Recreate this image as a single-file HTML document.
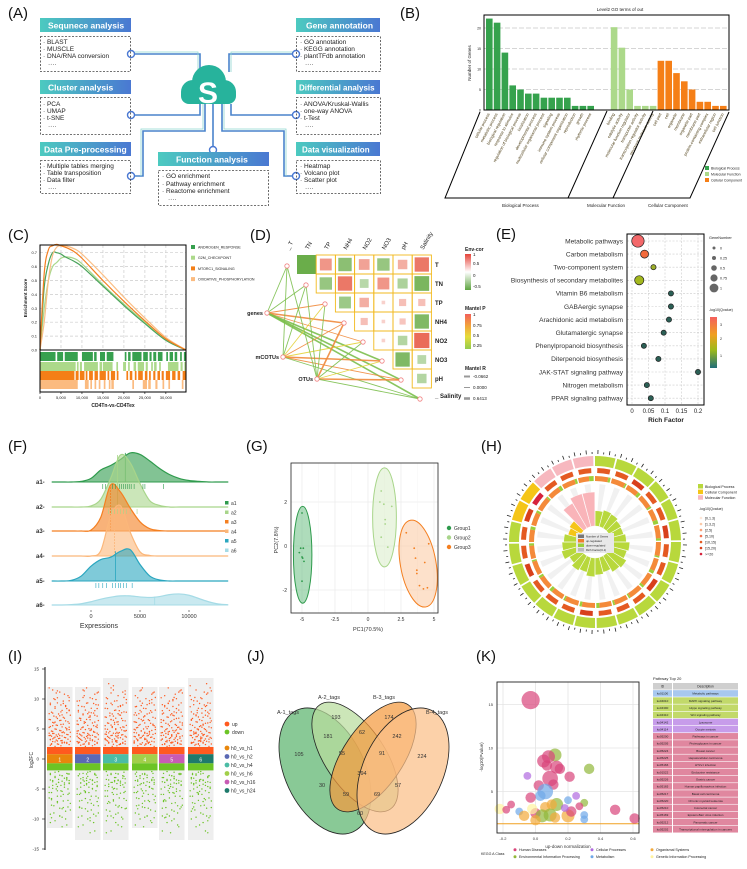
<!DOCTYPE html>
<html><head><meta charset="utf-8"><title>Multi-panel analysis figure</title>
<style>
html,body{margin:0;padding:0;background:#fff;}
svg{display:block;font-family:"Liberation Sans",Arial,sans-serif;}
</style></head>
<body>
<svg id="fig" width="747" height="869" viewBox="0 0 747 869" xmlns="http://www.w3.org/2000/svg">
<defs>
<linearGradient id="hdr" x1="0" x2="1" y1="0" y2="0"><stop offset="0" stop-color="#4ccac0"/><stop offset="1" stop-color="#4a78d2"/></linearGradient>
<linearGradient id="envcor" x1="0" x2="0" y1="0" y2="1"><stop offset="0" stop-color="#e5443a"/><stop offset="0.5" stop-color="#ffffff"/><stop offset="1" stop-color="#5ea440"/></linearGradient>
<linearGradient id="mantelp" x1="0" x2="0" y1="0" y2="1"><stop offset="0" stop-color="#f2605a"/><stop offset="0.35" stop-color="#f2a73a"/><stop offset="0.65" stop-color="#e6dc3a"/><stop offset="1" stop-color="#93cc4e"/></linearGradient>
<linearGradient id="qval" x1="0" x2="0" y1="0" y2="1"><stop offset="0" stop-color="#f4605e"/><stop offset="0.35" stop-color="#f0a020"/><stop offset="0.65" stop-color="#9cba1c"/><stop offset="1" stop-color="#1f6e78"/></linearGradient>
</defs>

<g id="panelA">
<text x="8" y="18" font-size="15" fill="#111">(A)</text>
<g fill="none" stroke="#4a84cc" stroke-width="1.6">
<polyline points="131,54 200,54 200,72"/>
<polyline points="131,115 200,115 200,104"/>
<polyline points="131,176 143,176 143,131 205,131 205,104"/>
<polyline points="296,54 229,54 229,72"/>
<polyline points="296,115 231,115 231,104"/>
<polyline points="296,176 284,176 284,131 222,131 222,104"/>
<polyline points="213,150 213,104"/>
</g>
<g fill="none" stroke="#8fd6d0" stroke-width="0.8">
<polyline points="131,52 198,52 198,72"/><polyline points="298,52 231,52 231,72"/>
<polyline points="141,176 141,129 203,129 203,104"/><polyline points="286,176 286,129 224,129 224,104"/>
</g>
<g fill="#fff" stroke="#4a78d2" stroke-width="1.4">
<circle cx="131" cy="54" r="3.5"/><circle cx="131" cy="115" r="3.5"/><circle cx="131" cy="176" r="3.5"/>
<circle cx="296" cy="54" r="3.5"/><circle cx="296" cy="115" r="3.5"/><circle cx="296" cy="176" r="3.5"/>
<circle cx="213" cy="150" r="3.5"/>
</g>
<g fill="#27b39c">
<circle cx="193" cy="92" r="12"/><circle cx="209" cy="82" r="17"/><circle cx="224" cy="92" r="12"/>
<rect x="181" y="86" width="55" height="18" rx="8"/>
</g>
<text x="208" y="103" font-size="30" font-weight="bold" fill="#fff" text-anchor="middle">S</text>

<g>
<rect x="40" y="18" width="91" height="14" fill="url(#hdr)"/>
<text x="48" y="28.5" font-size="8.5" font-weight="bold" fill="#fff">Sequnece analysis</text>
<rect x="40.5" y="36.5" width="90" height="35" fill="none" stroke="#444" stroke-dasharray="2,1.5" stroke-width="0.8"/>
<g font-size="6.5" fill="#222"><text x="43" y="44">· BLAST</text><text x="43" y="51">· MUSCLE</text><text x="43" y="58">· DNA/RNA conversion</text><text x="48" y="66">····</text></g>
</g>
<g>
<rect x="40" y="80" width="91" height="14" fill="url(#hdr)"/>
<text x="48" y="90.5" font-size="8.5" font-weight="bold" fill="#fff">Cluster analysis</text>
<rect x="40.5" y="97.5" width="90" height="37" fill="none" stroke="#444" stroke-dasharray="2,1.5" stroke-width="0.8"/>
<g font-size="6.5" fill="#222"><text x="43" y="106">· PCA</text><text x="43" y="113">· UMAP</text><text x="43" y="120">· t-SNE</text><text x="48" y="128">····</text></g>
</g>
<g>
<rect x="40" y="142" width="91" height="14" fill="url(#hdr)"/>
<text x="44" y="152.5" font-size="8.5" font-weight="bold" fill="#fff">Data Pre-processing</text>
<rect x="40.5" y="160.5" width="90" height="33" fill="none" stroke="#444" stroke-dasharray="2,1.5" stroke-width="0.8"/>
<g font-size="6.5" fill="#222"><text x="43" y="168">· Multiple tables merging</text><text x="43" y="175">· Table transposition</text><text x="43" y="182">· Data filter</text><text x="48" y="190">····</text></g>
</g>
<g>
<rect x="296" y="18" width="84" height="14" fill="url(#hdr)"/>
<text x="306" y="28.5" font-size="8.5" font-weight="bold" fill="#fff">Gene annotation</text>
<rect x="296.5" y="36.5" width="84" height="35" fill="none" stroke="#444" stroke-dasharray="2,1.5" stroke-width="0.8"/>
<g font-size="6.5" fill="#222"><text x="300" y="44">· GO annotation</text><text x="300" y="51">· KEGG annotation</text><text x="300" y="58">· plantTFdb annotation</text><text x="305" y="66">····</text></g>
</g>
<g>
<rect x="296" y="80" width="84" height="14" fill="url(#hdr)"/>
<text x="299" y="90.5" font-size="8" font-weight="bold" fill="#fff">Differential analysis</text>
<rect x="296.5" y="97.5" width="84" height="37" fill="none" stroke="#444" stroke-dasharray="2,1.5" stroke-width="0.8"/>
<g font-size="6.5" fill="#222"><text x="300" y="106">· ANOVA/Kruskal-Wallis</text><text x="300" y="113">· one-way ANOVA</text><text x="300" y="120">· t-Test</text><text x="305" y="128">····</text></g>
</g>
<g>
<rect x="296" y="142" width="84" height="14" fill="url(#hdr)"/>
<text x="302" y="152.5" font-size="8" font-weight="bold" fill="#fff">Data visualization</text>
<rect x="296.5" y="160.5" width="84" height="33" fill="none" stroke="#444" stroke-dasharray="2,1.5" stroke-width="0.8"/>
<g font-size="6.5" fill="#222"><text x="300" y="168">· Heatmap</text><text x="300" y="175">· Volcano plot</text><text x="300" y="182">· Scatter plot</text><text x="305" y="190">····</text></g>
</g>
<g>
<rect x="158" y="152" width="111" height="14" fill="url(#hdr)"/>
<text x="176" y="162.5" font-size="8.5" font-weight="bold" fill="#fff">Function analysis</text>
<rect x="158.5" y="170.5" width="110" height="35" fill="none" stroke="#444" stroke-dasharray="2,1.5" stroke-width="0.8"/>
<g font-size="6.5" fill="#222"><text x="162" y="178">· GO enrichment</text><text x="162" y="186">· Pathway enrichment</text><text x="162" y="193">· Reactome enrichment</text><text x="168" y="201">····</text></g>
</g>
</g>
</svg>

<script>
const NS='http://www.w3.org/2000/svg';
const svg=document.getElementById('fig');
function mk(tag,a,p){const e=document.createElementNS(NS,tag);for(const k in a)e.setAttribute(k,a[k]);(p||svg).appendChild(e);return e;}
function tx(x,y,s,a,p){const e=mk('text',Object.assign({x:x,y:y},a||{}),p);e.textContent=s;return e;}
function smooth(pts){let d='M'+pts[0][0]+','+pts[0][1];for(let i=0;i<pts.length-1;i++){const p0=pts[Math.max(0,i-1)],p1=pts[i],p2=pts[i+1],p3=pts[Math.min(pts.length-1,i+2)];const c1=[p1[0]+(p2[0]-p0[0])/6,p1[1]+(p2[1]-p0[1])/6],c2=[p2[0]-(p3[0]-p1[0])/6,p2[1]-(p3[1]-p1[1])/6];d+=' C'+c1[0]+','+c1[1]+' '+c2[0]+','+c2[1]+' '+p2[0]+','+p2[1];}return d;}

/* PANEL B data */
const goCategories=["cellular process","metabolic process","biological regulation","response to stimulus","regulation of biological process","localization","developmental process","multicellular organismal process","signaling","immune system process","cellular component organization","reproduction","growth","rhythmic process","","","binding","catalytic activity","molecular function regulator","transporter activity","transcription regulator activity","structural molecule activity","cell part","cell","organelle","membrane","organelle part","membrane part","protein-containing complex","extracellular region","cell junction"];
const goCounts=[22.3,21.3,14,6,5,4,4,3,3,3,3,1,1,1,0,0,20.2,15.2,5,1,1,1,12,12,9,7,5,2,2,1,1];
const goClass=["BP","BP","BP","BP","BP","BP","BP","BP","BP","BP","BP","BP","BP","BP","","","MF","MF","MF","MF","MF","MF","CC","CC","CC","CC","CC","CC","CC","CC","CC"];
const goTicks=[0,5,10,15,20];

/* PANEL C data */
const gseaRanks=[0,1000,2000,3000,4000,5000,6000,8000,10000,15000,20000,25000,30000,34800];
const esAndrogen=[0,0.45,0.62,0.7,0.7,0.69,0.67,0.64,0.6,0.46,0.32,0.19,0.07,0];
const esG2M=[0,0.3,0.5,0.6,0.63,0.66,0.67,0.66,0.62,0.47,0.33,0.2,0.07,0];
const esMtorc1=[0,0.55,0.72,0.75,0.76,0.75,0.74,0.71,0.66,0.5,0.35,0.21,0.08,0];
const esOxphos=[0,0.2,0.5,0.68,0.74,0.75,0.75,0.73,0.69,0.54,0.38,0.23,0.09,0];
const hitsAndrogen=[[0,3.7],[4.1,5.5],[5.9,9],[10,12.6],[12.9,13.5],[14.3,15.5],[15.9,17.5],[20.2,20.6],[21,21.6],[22,24.2],[24.6,25.7],[26.1,26.6],[27,27.7],[28.1,29.2],[30.1,30.5],[30.9,31.7],[32.1,32.7],[33.4,33.8],[34.3,34.8]];
const hitsG2M=[[0,8.5],[8.8,9.2],[9.5,10],[10.5,13.8],[14.2,14.8],[15,17.3],[18.2,18.6],[19.8,20.5],[21,21.4],[22.3,22.9],[23.3,24.8],[25.2,25.7],[26.5,26.9],[27.2,27.8],[28.4,28.8],[30.5,33],[33.5,34],[34.4,34.8]];
const hitsMtorc1=[[0,8.2],[8.5,9.2],[9.5,10.6],[10.9,11.3],[11.7,12.6],[13,13.8],[14.2,15.7],[16.1,16.5],[16.9,17.9],[18.3,18.7],[20.6,21],[21.4,22],[22.6,23],[23.4,24.5],[25,25.6],[26,26.4],[27,27.5],[28,28.6],[29,29.5],[30,31],[31.5,32.3],[32.8,33.4],[34,34.8]];
const hitsOxphos=[[0,9],[10.7,11.6],[12,12.4],[13,13.4],[14,14.4],[15.2,15.6],[16.4,16.8],[17,17.6],[22,22.4],[24.5,25.5],[25.8,26.4],[27.5,28],[29.2,29.6],[30.6,31],[33.8,34.2]];
const gseaNames=["ANDROGEN_RESPONSE","G2M_CHECKPOINT","MTORC1_SIGNALING","OXIDATIVE_PHOSPHORYLATION"];

/* PANEL D data */
const envVars=["T","TN","TP","NH4","NO2","NO3","pH","Salinity"];
const envCorRows=[[-1.0,0.55,-0.7,0.45,-0.6,0.35,0.8],[-0.6,0.8,-0.3,0.55,-0.4,-0.85],[-0.55,0.35,0.05,0.2,0.2],[0.2,0.05,0.15,-0.8],[0.05,-0.35,0.9],[-0.8,-0.3],[-0.35]];
const mantelSources=["genes","mCOTUs","OTUs"];
const mantelPClass=[["g","g","o","o","o","g","g","g"],["g","g","y","o","y","o","o","g"],["g","g","g","o","g","y","o","g"]];
const mantelRClass=[[1,1,1,2,1,2,2,2],[1,1,1,1,1,2,1,1],[1,1,1,2,1,1,2,1]];

/* PANEL E data */
const keggPathways=["Metabolic pathways","Carbon metabolism","Two-component system","Biosynthesis of secondary metabolites","Vitamin B6 metabolism","GABAergic synapse","Arachidonic acid metabolism","Glutamatergic synapse","Phenylpropanoid biosynthesis","Diterpenoid biosynthesis","JAK-STAT signaling pathway","Nitrogen metabolism","PPAR signaling pathway"];
const richFactor=[0.018,0.038,0.065,0.022,0.118,0.118,0.112,0.096,0.036,0.08,0.2,0.045,0.057];
const geneNumber=[1,0.45,0.1,0.6,0.1,0.1,0.1,0.1,0.1,0.1,0.1,0.1,0.1];
const negLogQ=[3.4,3.0,1.3,1.5,0.4,0.4,0.4,0.4,0.4,0.4,0.4,0.4,0.4];
const richTicks=[0,0.05,0.1,0.15,0.2];

/* PANEL F data */
const ridgeGrid=[-4000,-3000,-2000,-1000,0,1000,2000,3000,4000,5000,6000,7000,8000,9000,10000,11000,12000,13000,14000];
const ridgeNames=["a1","a2","a3","a4","a5","a6"];
const densA1=[0,0,0,0.02,0.12,0.4,0.55,0.75,0.97,0.92,0.7,0.45,0.25,0.12,0.05,0.02,0,0,0];
const densA2=[0,0,0,0,0.02,0.15,0.55,1.0,0.85,0.45,0.12,0.03,0,0,0,0,0,0,0];
const densA3=[0,0,0,0,0.02,0.3,1.0,0.85,0.5,0.2,0.05,0.01,0,0,0,0,0,0,0];
const densA4=[0,0,0,0,0,0.1,0.75,0.95,0.45,0.08,0.01,0,0,0,0,0,0,0,0];
const densA5=[0,0,0.02,0.15,0.45,0.65,0.72,0.9,0.95,0.5,0.15,0.03,0,0,0,0,0,0,0];
const densA6=[0,0,0.03,0.1,0.25,0.45,0.6,0.7,0.7,0.62,0.58,0.65,0.8,0.85,0.75,0.5,0.25,0.08,0.02];
const ridgeMedians=[3500,2700,2000,2400,2500,6500];
const ridgeRanges=[[-4000,14000],[-4000,13000],[-3000,9500],[-3000,9000],[-4000,13000],[-4000,14000]];
const rugA1=[1200,1500,2200,2500,2900,3100,3300,3500,3700,3900,4100,4400,5300,5500,7400];
const rugA2=[1800,2100,2400,2700,3000,3300,3600,4000,4700];
const rugA5=[500,800,1200,1600,2200,2500,2800,3000,3300,3600,4200];

/* PANEL G data */
const pcaGroups=["Group1","Group2","Group3"];
const pc1G1=[-5.0,-5.1,-5.2,-4.9,-5.0,-4.85,-5.0,-4.95];
const pc2G1=[1.5,-0.1,-0.3,-0.1,-0.5,-0.7,-1.6,-0.55];
const pc1G2=[1.0,0.9,1.2,1.8,1.3,1.3,1.0,1.5];
const pc2G2=[2.5,2.0,1.9,1.8,1.2,1.0,0.4,-0.05];
const pc1G3=[2.9,3.5,4.6,3.6,4.3,3.7,3.7,4.5,3.9,4.2];
const pc2G3=[0.6,-0.1,0.1,-0.55,-0.75,-1.1,-1.25,-1.9,-1.8,-1.95];
const ellipseCx=[-4.95,1.25,3.8];
const ellipseCy=[-0.4,1.3,-0.8];
const ellipseRx=[0.7,0.9,1.35];
const ellipseRy=[2.2,2.25,2.0];
const pc1Ticks=[-5,-2.5,0,2.5,5];
const pc2Ticks=[-2,0,2];

/* PANEL H data */
const circClass=["BP","BP","BP","BP","BP","BP","BP","BP","BP","BP","BP","BP","BP","BP","BP","BP","BP","BP","BP","CC","CC","MF","MF","MF"];
const circInner=[0.45,0.5,0.48,0.42,0.4,0.45,0.55,0.5,0.6,0.55,0.45,0.5,0.55,0.45,0.5,0.4,0.55,0.5,0.45,0.35,0.4,0.85,1.0,1.0];
const circUpFrac=[0.85,0.9,0.8,0.88,0.75,0.85,0.9,0.8,0.85,0.9,0.88,0.8,0.85,0.9,0.8,0.85,0.9,0.85,0.8,0.85,0.9,0.8,0.85,0.7];
const circQ=[4,4,5,4,4,5,4,4,5,4,4,4,5,4,4,4,5,4,4,5,6,4,4,4];
const qColors=["#fde7d8","#fbc9a8","#f8a27a","#f3704e","#e45a22","#d8401c","#d6233c"];
const qLabels=["[0,1.3)","[1.3,2)","[2,5)","[5,10)","[10,15)","[15,20)",">=20"];

/* PANEL I data */
const maGroups=["h0_vs_h1","h0_vs_h2","h0_vs_h4","h0_vs_h6","h0_vs_h16","h0_vs_h24"];
const maColors=["#e8870c","#5b69b4","#4bbca5","#a2cf4a","#c85bb4","#1e7a6b"];
const maUpMax=[12,12,13.5,12,12,13.5];
const maDownMin=[-11.5,-13.5,-13.5,-11.5,-13.5,-13.5];
const upVals=[11.5,10.8,10.2,9.7,9.3,9.0,8.7,8.4,8.1,7.8,7.5,7.3,7.0,6.8,6.6,6.4,6.2,6.0,5.8,5.6,5.4,5.2,5.0,4.9,4.7,4.6,4.4,4.3,4.1,4.0,3.9,3.8,3.7,3.6,3.5,3.4,3.3,3.2,3.1,3.0,9.9,8.9,7.2,6.1,5.3,4.5,3.9,12.2,11.0,7.7,2.9,2.7,2.5,2.4,2.3,2.2,2.1,2.6,2.8,2.45];
const upJit=[0.2,0.7,0.4,0.9,0.1,0.55,0.3,0.8,0.6,0.15,0.45,0.95,0.35,0.7,0.05,0.5,0.85,0.25,0.65,0.4,0.1,0.75,0.3,0.9,0.55,0.2,0.6,0.05,0.8,0.35,0.5,0.15,0.95,0.7,0.25,0.45,0.85,0.1,0.6,0.4,0.3,0.75,0.5,0.2,0.9,0.65,0.05,0.55,0.35,0.8];
const downVals=[-3.1,-3.3,-3.5,-3.7,-3.9,-4.1,-4.4,-4.7,-5.0,-5.3,-5.6,-5.9,-6.2,-6.6,-7.0,-7.4,-7.8,-8.2,-8.7,-9.2,-9.7,-10.3,-11.0,-12.0,-3.2,-3.6,-4.0,-4.6,-5.4,-6.8,-8.0,-9.5,-2.2,-2.4,-2.6,-2.8,-2.1,-2.5];
const downJit=[0.3,0.8,0.1,0.6,0.45,0.9,0.2,0.7,0.35,0.55,0.05,0.85,0.4,0.15,0.65,0.95,0.25,0.5,0.75,0.1,0.6,0.3,0.8,0.45,0.7,0.2,0.9,0.4,0.6,0.15,0.85,0.5];
const maTicks=[-15,-10,-5,0,5,10,15];

/* PANEL J data */
const vennSets=["A-1_tags","A-2_tags","B-3_tags","B-4_tags"];
const vennCounts=[105,193,174,224,181,62,242,55,91,394,30,57,59,69,60];

/* PANEL K data */
const bubX=[-0.03,0.12,0.08,0.05,0.07,0.13,0.15,0.33,0.09,0.21,-0.05,0.02,0.11,0.06,0.03,-0.03,0.2,0.25,0.3,0.13,0.1,0.06,-0.15,-0.22,-0.18,-0.1,-0.07,0.0,0.04,0.09,0.12,0.2,0.22,0.27,0.3,0.3,0.49,0.61,0.18,-0.02,0.0];
const bubY=[15.5,9.2,9.0,8.5,8.0,7.8,7.6,7.6,6.5,6.7,6.8,5.7,5.8,5.0,4.5,4.3,4.0,4.5,3.7,3.5,3.5,3.2,3.5,3.0,2.9,2.7,2.2,2.5,2.2,2.3,2.0,2.2,2.7,3.3,2.3,1.8,2.9,1.9,3.1,3.0,1.7];
const bubR=[7,5,5,5,4,5,4,4,6,4,3,4,4,6,4,4,3,3,3,5,4,4,3,4,3,3,4,4,5,5,4,5,4,3,3,3,4,4,3,4,4];
const bubClass=["H","E","H","H","H","H","H","E","H","H","C","H","H","M","M","H","M","C","E","E","O","O","H","G","H","M","O","H","E","E","O","O","H","H","M","M","H","H","C","G","O"];
const keggClassNames={H:"Human Diseases",E:"Environmental Information Processing",C:"Cellular Processes",M:"Metabolism",O:"Organismal Systems",G:"Genetic Information Processing"};
const keggClassColors={H:"#d9457a",E:"#92b83a",C:"#b06ae0",M:"#6fa8e8",O:"#f2a93b",G:"#fff3a0"};
const topIds=["ko01100","ko04010","ko04390","ko04310","ko04142","ko04114","ko05200","ko05205","ko05224","ko05225","ko05166","ko01522","ko05226","ko05165","ko05217","ko05220","ko05210","ko05169","ko05212","ko05202"];
const topDesc=["Metabolic pathways","MAPK signaling pathway","Hippo signaling pathway","Wnt signaling pathway","Lysosome","Oocyte meiosis","Pathways in cancer","Proteoglycans in cancer","Breast cancer","Hepatocellular carcinoma","HTLV-I infection","Endocrine resistance","Gastric cancer","Human papillomavirus infection","Basal cell carcinoma","Chronic myeloid leukemia","Colorectal cancer","Epstein-Barr virus infection","Pancreatic cancer","Transcriptional misregulation in cancers"];
const topClass=["M","E","E","E","C","C","H","H","H","H","H","H","H","H","H","H","H","H","H","H"];
const kxTicks=[-0.2,0,0.2,0.4,0.6];
const kyTicks=[5,10,15];

/* PANEL B */
(function(){
const g=mk('g',{});


const lbl=tx(400,18,'(B)',{'font-size':15,fill:'#111'},g);


const X0=486,STEP=7.8,BW=6.6,YB=110,YS=4.1;
const y=v=>YB-v*YS;
const cols={BP:'#35a24d',MF:'#acd98a',CC:'#f57f17'};
goTicks.forEach(t=>{if(t>0)mk('line',{x1:484,x2:729,y1:y(t),y2:y(t),stroke:'#c8c8c8','stroke-width':0.8,'stroke-dasharray':'5,2'},g);
 tx(481,y(t)+1.5,String(t),{'font-size':3.5,'text-anchor':'end',fill:'#222'},g);});
goCounts.forEach((v,i)=>{if(!goClass[i])return;
 const r=mk('rect',{x:X0+i*STEP,y:y(v),width:BW,height:v*YS,fill:cols[goClass[i]]},g);
 
 
 const t=tx(X0+i*STEP+4,114,goCategories[i],{'font-size':4,'text-anchor':'end',fill:'#4a3a10',transform:'rotate(-62 '+(X0+i*STEP+4)+' 114)'},g);
 
 
});
const box=mk('rect',{x:484,y:15,width:245,height:95,fill:'none',stroke:'#000','stroke-width':1},g);


tx(620,11,'Level2 GO terms of out',{'font-size':4.5,'text-anchor':'middle',fill:'#222'},g);
const yl=tx(471,63,'Number of Genes',{'font-size':4.5,'text-anchor':'middle',fill:'#222',transform:'rotate(-90 471 63)'},g);


mk('polyline',{points:'480,112 445,198 690,198 729,112',fill:'none',stroke:'#000','stroke-width':1},g);
mk('line',{x1:607,y1:111,x2:568,y2:198,stroke:'#000','stroke-width':1},g);
mk('line',{x1:653,y1:111,x2:613,y2:198,stroke:'#000','stroke-width':1},g);
[['Biological Process',502],['Molecular Function',587],['Cellular Component',648]].forEach(a=>{const t=tx(a[1],207,a[0],{'font-size':4.5,fill:'#222'},g);});
[['Biological Process','BP'],['Molecular Function','MF'],['Cellular Component','CC']].forEach((a,i)=>{
 const r=mk('rect',{x:705,y:166+i*6,width:4,height:4,fill:cols[a[1]]},g);
 
 
 tx(711,169.5+i*6,a[0],{'font-size':3.5,fill:'#222'},g);});
})();

/* PANEL C */
(function(){
const g=mk('g',{});


const lbl=tx(8,240,'(C)',{'font-size':15,fill:'#111'},g);


const L=40,R=186,T=245,B=350;
const x=k=>L+k/34800*(R-L);
const y=v=>B-v/0.1*13.9;
for(let k=5000;k<=30000;k+=5000)mk('line',{x1:x(k),x2:x(k),y1:T,y2:B,stroke:'#ccc','stroke-width':0.7,'stroke-dasharray':'3,2'},g);
for(let v=0;v<=0.7001;v+=0.1){mk('line',{x1:L,x2:R,y1:y(v),y2:y(v),stroke:'#ccc','stroke-width':0.7,'stroke-dasharray':'3,2'},g);
 tx(L-3,y(v)+1.5,v.toFixed(1),{'font-size':4,'text-anchor':'end',fill:'#222'},g);}
const series=[[esG2M,'#a9d88c'],[esAndrogen,'#4aa35c'],[esOxphos,'#fbbf86'],[esMtorc1,'#f47f20']];
const names=['es-line-g2m-checkpoint','es-line-androgen-response','es-line-oxidative-phosphorylation','es-line-mtorc1-signaling'];
series.forEach((s,i)=>{const pts=gseaRanks.map((r,j)=>[x(r),y(s[0][j])]);
 const p=mk('path',{d:smooth(pts),fill:'none',stroke:s[1],'stroke-width':1.2},g);
 
 });
mk('rect',{x:L,y:T,width:R-L,height:B-T,fill:'none',stroke:'#000','stroke-width':1},g);
const rows=[[hitsAndrogen,'#37a04e',352],[hitsG2M,'#acd98a',362],[hitsMtorc1,'#f47f17',371],[hitsOxphos,'#fbbb80',380]];
rows.forEach((rw,ri)=>{rw[0].forEach(h=>{const r=mk('rect',{x:x(h[0]*1000),y:rw[2],width:Math.max(0.8,x(h[1]*1000)-x(h[0]*1000)),height:9,fill:rw[1]},g);
 
 });});
mk('rect',{x:L,y:350,width:R-L,height:42,fill:'none',stroke:'#000','stroke-width':1},g);
[0,5000,10000,15000,20000,25000,30000].forEach(k=>{mk('line',{x1:x(k),x2:x(k),y1:392,y2:394,stroke:'#000','stroke-width':0.6},g);
 tx(x(k),399,k===0?'0':k.toLocaleString('en-US'),{'font-size':4,'text-anchor':'middle',fill:'#222'},g);});
const xt=tx(113,407,'CD4Tn-vs-CD4Tex',{'font-size':5,'text-anchor':'middle','font-weight':'bold',fill:'#222'},g);


const yt=tx(27,298,'Enrichment Score',{'font-size':4.5,'text-anchor':'middle','font-weight':'bold',fill:'#222',transform:'rotate(-90 27 298)'},g);


const lc=['#37a04e','#acd98a','#f47f17','#fbbb80'];
gseaNames.forEach((n,i)=>{const r=mk('rect',{x:191,y:245+i*10.7,width:4,height:4,fill:lc[i]},g);
 
 
 tx(198,248.5+i*10.7,n,{'font-size':3.6,fill:'#222'},g);});
})();

/* PANEL D */
(function(){
const g=mk('g',{});


const lbl=tx(250,240,'(D)',{'font-size':15,fill:'#111'},g);


const GX=297,GY=255,CW=19.2,CH=19;
const tgt=envVars.map((v,i)=>[287+19*i,266+19*i]);
const src=[[267,313],[283,357],[317,379]];
const pc={g:'#7cbf4e',o:'#f08a3c',y:'#e3d23a'};
mantelSources.forEach((s,si)=>{envVars.forEach((v,ti)=>{
 const l=mk('line',{x1:src[si][0],y1:src[si][1],x2:tgt[ti][0],y2:tgt[ti][1],stroke:pc[mantelPClass[si][ti]],'stroke-width':mantelRClass[si][ti]===2?1.6:0.9,'stroke-opacity':0.9},g);
 
 });});
function col(v){const a=Math.min(1,Math.abs(v));const c=v>0?[232,96,76]:[106,173,74];return 'rgb('+c.map(cc=>Math.round(255-(255-cc)*(0.25+0.75*a))).join(',')+')';}
envCorRows.forEach((row,r)=>{row.forEach((v,k)=>{const c=r+k;const cx=GX+c*CW,cy=GY+r*CH;
 if(!(r===0&&k===0))mk('rect',{x:cx,y:cy,width:CW,height:CH,fill:'none',stroke:'#f2b91d','stroke-width':0.9},g);
 const s=(r===0&&k===0)?CW:16*Math.sqrt(Math.abs(v));
 const q=mk('rect',{x:cx+(CW-s)/2,y:cy+(CH-Math.min(s,CH))/2,width:s,height:Math.min(s,CH),fill:col(v)},g);
 
 });});
envVars.forEach((v,i)=>{
 const rl=tx(435,(i<7?GY+i*CH+12:398),(i===7?'_ ':'')+v,{'font-size':6,fill:'#222','font-weight':'bold'},g);
 
 
 const cxp=289+19.2*i;
 tx(cxp,250,(i===0?'_ ':'')+v,{'font-size':6,fill:'#222',transform:'rotate(-60 '+cxp+' 250)'},g);
});
tgt.forEach(t=>{const c=mk('circle',{cx:t[0],cy:t[1],r:2.2,fill:'#fff',stroke:'#f08080','stroke-width':0.8},g);});
src.forEach((s,i)=>{const c=mk('circle',{cx:s[0],cy:s[1],r:2.2,fill:'#fff',stroke:'#f08080','stroke-width':0.8},g);
 
 
 tx(s[0]-4,s[1]+2,mantelSources[i],{'font-size':5.5,'text-anchor':'end','font-weight':'bold',fill:'#222'},g);});
tx(465,251,'Env-cor',{'font-size':5,'font-weight':'bold',fill:'#222'},g);
const cb=mk('rect',{x:465,y:254,width:6,height:36,fill:'url(#envcor)'},g);


[['1',256],['0.5',265],['0',277],['-0.5',288]].forEach(a=>tx(473,a[1],a[0],{'font-size':4.5,fill:'#222'},g));
tx(465,310,'Mantel P',{'font-size':5,'font-weight':'bold',fill:'#222'},g);
const cb2=mk('rect',{x:465,y:314,width:6,height:35,fill:'url(#mantelp)'},g);


[['1',316],['0.75',327],['0.5',337],['0.25',347]].forEach(a=>tx(473,a[1],a[0],{'font-size':4.5,fill:'#222'},g));
tx(465,370,'Mantel R',{'font-size':5,'font-weight':'bold',fill:'#222'},g);
[['-0.0662',378,2],['0.0000',389,1],['0.6413',400,2.6]].forEach(a=>{mk('line',{x1:464,x2:470,y1:a[1]-1.5,y2:a[1]-1.5,stroke:'#999','stroke-width':a[2]},g);tx(473,a[1],a[0],{'font-size':4.5,fill:'#222'},g);});
})();

/* PANEL E */
(function(){
const g=mk('g',{});


const lbl=tx(496,239,'(E)',{'font-size':15,fill:'#111'},g);


const L=627,R=704,T=234,B=405;
const x=v=>632+v*330;
const y=i=>241+i*13.1;
richTicks.forEach(t=>{mk('line',{x1:x(t),x2:x(t),y1:T,y2:B,stroke:'#ccc','stroke-width':0.6,'stroke-dasharray':'2,1.5'},g);
 tx(x(t),413,String(t),{'font-size':6,'text-anchor':'middle',fill:'#222'},g);});
keggPathways.forEach((p,i)=>{mk('line',{x1:L,x2:R,y1:y(i),y2:y(i),stroke:'#ccc','stroke-width':0.6,'stroke-dasharray':'2,1.5'},g);
 const t=tx(623,y(i)+2.3,p,{'font-size':6.6,'text-anchor':'end',fill:'#333'},g);
 
 });
function qc(q){if(q>3.2)return '#f3686a';if(q>2.7)return '#f26a3c';if(q>1.4)return '#a3b81e';if(q>1.0)return '#9cae2a';return '#2b5f55';}
keggPathways.forEach((p,i)=>{const c=mk('circle',{cx:x(richFactor[i]),cy:y(i),r:2.2+geneNumber[i]*4,fill:qc(negLogQ[i]),stroke:'#222','stroke-width':0.7},g);
 
 });
mk('rect',{x:L,y:T,width:R-L,height:B-T,fill:'none',stroke:'#000','stroke-width':1},g);
const xt=tx(666,422,'Rich Factor',{'font-size':6.5,'font-weight':'bold','text-anchor':'middle',fill:'#222'},g);


tx(709,239,'GeneNumber',{'font-size':3.8,fill:'#222'},g);
[['0',1.5],['0.25',2],['0.5',2.8],['0.75',3.6],['1',4.4]].forEach((a,i)=>{mk('circle',{cx:714,cy:248+i*10,r:a[1],fill:'#666'},g);tx(720,249.5+i*10,a[0],{'font-size':3.6,fill:'#222'},g);});
tx(709,311,'-log10(Qvalue)',{'font-size':3.6,fill:'#222'},g);
const cb=mk('rect',{x:710,y:317,width:7,height:51,fill:'url(#qval)'},g);


[['3',326],['2',340],['1',357]].forEach(a=>tx(720,a[1],a[0],{'font-size':3.6,fill:'#222'},g));
})();

/* PANEL F */
(function(){
const g=mk('g',{});


const lbl=tx(8,451,'(F)',{'font-size':15,fill:'#111'},g);


const x=v=>91+v*0.0098;
const base=[482,507,531,556,581,605];
const hts=[30,52,46,53,33,13];
const dens=[densA1,densA2,densA3,densA4,densA5,densA6];
const fills=['#2f9b4d','#a8d58a','#f47f20','#fbb77a','#2aa6bf','#a5dbe6'];
dens.forEach((d,i)=>{
 const pts=ridgeGrid.map((v,j)=>[x(v),base[i]-d[j]*hts[i]]);
 const path=smooth(pts);
 const area=mk('path',{d:path+' L'+x(14000)+','+base[i]+' L'+x(-4000)+','+base[i]+' Z',fill:fills[i],'fill-opacity':0.6,stroke:'none'},g);
 
 
 mk('path',{d:path,fill:'none',stroke:fills[i],'stroke-width':1.2},g);
 mk('line',{x1:x(ridgeRanges[i][0]),x2:x(ridgeRanges[i][1]),y1:base[i],y2:base[i],stroke:fills[i],'stroke-width':1},g);
 const mi=Math.round((ridgeMedians[i]+4000)/1000);
 mk('line',{x1:x(ridgeMedians[i]),x2:x(ridgeMedians[i]),y1:base[i],y2:base[i]-d[Math.min(18,mi)]*hts[i],stroke:fills[i],'stroke-width':0.8,'stroke-dasharray':i===2||i===3?'2,1':''},g);
 const t=tx(36,base[i]+2,ridgeNames[i]+'-',{'font-size':6,'font-weight':'bold',fill:'#333'},g);
 
 
 const lr=mk('rect',{x:225,y:501+i*9.5,width:3.5,height:3.5,fill:fills[i]},g);
 
 
 tx(231,505+i*9.5,ridgeNames[i],{'font-size':5,fill:'#333'},g);
});
[[rugA1,base[0],'#2f9b4d'],[rugA2,base[1],'#a8d58a'],[rugA5,base[4],'#2aa6bf']].forEach(r=>r[0].forEach(v=>mk('line',{x1:x(v),x2:x(v),y1:r[1]+2,y2:r[1]+7,stroke:r[2],'stroke-width':0.6},g)));
[0,5000,10000].forEach(v=>{mk('line',{x1:x(v),x2:x(v),y1:610,y2:612,stroke:'#333','stroke-width':0.6},g);tx(x(v),618,String(v),{'font-size':5.5,'text-anchor':'middle',fill:'#333'},g);});
const xt=tx(99,628,'Expressions',{'font-size':7,'text-anchor':'middle',fill:'#333'},g);


})();

/* PANEL G */
(function(){
const g=mk('g',{});


const lbl=tx(246,451,'(G)',{'font-size':15,fill:'#111'},g);


const x=v=>368+v*13.2,y=v=>546-v*22;
pc1Ticks.forEach(t=>{mk('line',{x1:x(t),x2:x(t),y1:463,y2:613,stroke:'#ececec','stroke-width':0.8},g);tx(x(t),621,String(t),{'font-size':5,'text-anchor':'middle',fill:'#333'},g);});
pc2Ticks.forEach(t=>{mk('line',{x1:291,x2:438,y1:y(t),y2:y(t),stroke:'#ececec','stroke-width':0.8},g);tx(287,y(t)+2,String(t),{'font-size':5,'text-anchor':'end',fill:'#333'},g);});
[-3.75,-1.25,1.25,3.75].forEach(t=>mk('line',{x1:x(t),x2:x(t),y1:463,y2:613,stroke:'#f4f4f4','stroke-width':0.5},g));
const cols=['#2e9a4c','#a8d58a','#f47f20'];
const fillsE=['#6cbf84','#d8ecc8','#fbc9a0'];
pcaGroups.forEach((n,i)=>{const e=mk('ellipse',{cx:x(ellipseCx[i]),cy:y(ellipseCy[i]),rx:ellipseRx[i]*13.2,ry:ellipseRy[i]*22,fill:fillsE[i],'fill-opacity':0.55,stroke:cols[i],'stroke-width':1,transform:i===2?'rotate(-10 '+x(ellipseCx[i])+' '+y(ellipseCy[i])+')':''},g);
 
 });
[[pc1G1,pc2G1],[pc1G2,pc2G2],[pc1G3,pc2G3]].forEach((s,i)=>s[0].forEach((v,j)=>{const c=mk('circle',{cx:x(v),cy:y(s[1][j]),r:0.9,fill:cols[i]},g);
 
 }));
mk('rect',{x:291,y:463,width:147,height:150,fill:'none',stroke:'#222','stroke-width':0.8},g);
const xt=tx(368,631,'PC1(70.5%)',{'font-size':5.5,'text-anchor':'middle',fill:'#333'},g);


const yt=tx(278,540,'PC2(7.8%)',{'font-size':5.5,'text-anchor':'middle',fill:'#333',transform:'rotate(-90 278 540)'},g);


pcaGroups.forEach((n,i)=>{const c=mk('circle',{cx:449,cy:528+i*9.5,r:2.2,fill:cols[i]},g);
 
 
 tx(454,530+i*9.5,n,{'font-size':5,fill:'#333'},g);});
})();

/* PANEL H */
(function(){
const g=mk('g',{});


const lbl=tx(481,451,'(H)',{'font-size':15,fill:'#111'},g);


const CX=595,CY=542,N=circClass.length,DA=360/N;
const rad=a=>(a-90)*Math.PI/180;
function arc(r0,r1,a0,a1){const p=(r,a)=>[CX+r*Math.cos(rad(a)),CY+r*Math.sin(rad(a))];const A=p(r1,a0),B=p(r1,a1),C=p(r0,a1),D=p(r0,a0);const lg=(a1-a0)>180?1:0;
 return 'M'+A+' A'+r1+','+r1+' 0 '+lg+' 1 '+B+' L'+C+' A'+r0+','+r0+' 0 '+lg+' 0 '+D+' Z';}
const cc={BP:'#b8d83c',CC:'#f5c518',MF:'#f7b8bf'};
for(let i=0;i<N;i++){const a0=i*DA,a1=(i+1)*DA-1.2;
 mk('path',{d:arc(18,58,a0+DA*0.3,a0+DA*0.7),fill:'#f1f1f1'},g);
 const o=mk('path',{d:arc(76,86,a0,a1),fill:cc[circClass[i]]},g);
 
 
 const q=mk('path',{d:arc(69,74,a0+DA*0.12,a1-DA*0.12),fill:qColors[circQ[i]]},g);
 
 
 const split=a0+(a1-a0)*circUpFrac[i];
 mk('path',{d:arc(61,66,a0,split),fill:'#f48a3a'},g);
 mk('path',{d:arc(61,66,split,a1),fill:'#9bcf3a'},g);
 const b=mk('path',{d:arc(16,16+circInner[i]*34,a0+0.3,a1+0.9),fill:circClass[i]==='MF'?'#f9b4b9':(circClass[i]==='CC'?'#f5c518':'#b8d83c'),stroke:'#fff','stroke-width':0.4},g);
 
 
 for(let k=0;k<4;k++){const aa=rad(a0+DA*(k+0.5)/4);const L2=(k%2===0)?4:2;mk('line',{x1:CX+88*Math.cos(aa),y1:CY+88*Math.sin(aa),x2:CX+(88+L2)*Math.cos(aa),y2:CY+(88+L2)*Math.sin(aa),stroke:'#222','stroke-width':0.8},g);}
}
const lg=mk('rect',{x:576,y:533,width:38,height:20,fill:'#e8e8e8'},g);


[['#777','Number of Genes'],['#f07e2c','up-regulated'],['#9bcf3a','down-regulated'],['#bbb','Rich Factor(0-1)']].forEach((a,i)=>{mk('rect',{x:578,y:534.5+i*4.5,width:6,height:3.5,fill:a[0]},g);tx(586,537.5+i*4.5,a[1],{'font-size':2.8,fill:'#222'},g);});
[['#b8d83c','Biological Process'],['#f5c518','Cellular Component'],['#f7b8bf','Molecular Function']].forEach((a,i)=>{const r=mk('rect',{x:698,y:484+i*5.6,width:5,height:4.5,fill:a[0]},g);
 
 
 tx(705,488+i*5.6,a[1],{'font-size':3.6,fill:'#222'},g);});
tx(699,510,'-log10(Qvalue)',{'font-size':3.6,fill:'#222'},g);
qLabels.forEach((l,i)=>{mk('circle',{cx:701,cy:518+i*6,r:1.3,fill:qColors[i]},g);tx(705,519.5+i*6,l,{'font-size':3.6,fill:'#222'},g);});
})();

/* PANEL I */
(function(){
const g=mk('g',{});


const lbl=tx(8,661,'(I)',{'font-size':15,fill:'#111'},g);


const y=v=>759-v*6;
const cx0=[47,75,103,132,159,188],cw=25.5;
maGroups.forEach((n,i)=>{
 const bg=mk('rect',{x:cx0[i],y:y(maUpMax[i]),width:cw,height:y(maDownMin[i])-y(maUpMax[i]),fill:'#eeeeee'},g);
 
 
 const ub=mk('rect',{x:cx0[i],y:y(2.0),width:cw,height:y(0.8)-y(2.0),fill:'#ff5a1f'},g);
 
 
 const db=mk('rect',{x:cx0[i],y:y(-0.7),width:cw,height:y(-1.9)-y(-0.7),fill:'#6cc425'},g);
 
 
 for(let pass=0;pass<2;pass++){
 upVals.forEach((v,j)=>{const k=(j+i*7+pass*13)%upVals.length;if(upVals[k]>maUpMax[i])return;
  const c=mk('circle',{cx:cx0[i]+1+upJit[(j+i*3+pass*17)%upJit.length]*(cw-2),cy:y(upVals[k]+pass*0.35),r:0.7,fill:'#ff5a1f'},g);
  
  });
 downVals.forEach((v,j)=>{const k=(j+i*5+pass*11)%downVals.length;if(downVals[k]<maDownMin[i])return;
  const c=mk('circle',{cx:cx0[i]+1+downJit[(j+i*4+pass*9)%downJit.length]*(cw-2),cy:y(downVals[k]-pass*0.3),r:0.7,fill:'#6cc425'},g);
  
  });
 }
 const lb=mk('rect',{x:cx0[i],y:y(0.8),width:cw,height:y(-0.7)-y(0.8),fill:maColors[i]},g);
 
 
 tx(cx0[i]+cw/2,y(-0.2)+1.5,String(i+1),{'font-size':5,'text-anchor':'middle',fill:'#fff'},g);
 const lc=mk('circle',{cx:227,cy:748+i*8.5,r:2.4,fill:maColors[i]},g);
 
 
 tx(231,750+i*8.5,n,{'font-size':5,fill:'#333'},g);
});
mk('line',{x1:45,x2:45,y1:667,y2:850,stroke:'#111','stroke-width':1},g);
maTicks.forEach(t=>{mk('line',{x1:42,x2:45,y1:y(t),y2:y(t),stroke:'#111','stroke-width':0.6},g);tx(39,y(t)+1.5,String(t),{'font-size':4.5,'text-anchor':'end',fill:'#333'},g);});
const yt=tx(33,760,'log2FC',{'font-size':5,'text-anchor':'middle',fill:'#333',transform:'rotate(-90 33 760)'},g);


[['#ff5a1f','up',724],['#6cc425','down',732]].forEach(a=>{const c=mk('circle',{cx:227,cy:a[2],r:2.4,fill:a[0]},g);tx(232,a[2]+2,a[1],{'font-size':5,fill:'#333'},g);});
})();

/* PANEL J */
(function(){
const g=mk('g',{});


const lbl=tx(247,661,'(J)',{'font-size':15,fill:'#111'},g);


const E=[[325,771,40,67,-25,'#5cb46e'],[355,757,30,63,-34,'#b9dd9c'],[373,757,30,63,34,'#f49a3e'],[403,771,40,67,25,'#fbbf88']];
E.forEach((e,i)=>{const el=mk('ellipse',{cx:e[0],cy:e[1],rx:e[2],ry:e[3],fill:e[5],'fill-opacity':0.72,stroke:'#222','stroke-width':0.8,transform:'rotate('+e[4]+' '+e[0]+' '+e[1]+')'},g);
 
 });
const pos=[[299,756],[336,719],[389,719],[422,758],[328,738],[362,734],[397,738],[342,755],[382,755],[362,775],[322,787],[398,787],[346,796],[377,796],[360,815]];
vennCounts.forEach((c,i)=>{const t=tx(pos[i][0],pos[i][1],String(c),{'font-size':5.5,'text-anchor':'middle',fill:'#333'},g);
 
 });
[[277,714],[318,699],[373,699],[426,714]].forEach((p,i)=>{const t=tx(p[0],p[1],vennSets[i],{'font-size':5.5,fill:'#333'},g);});
})();

/* PANEL K */
(function(){
const g=mk('g',{});


const lbl=tx(476,661,'(K)',{'font-size':15,fill:'#111'},g);


const x=v=>535.5+v*162.5,y=v=>835-v*8.7;
kxTicks.forEach(t=>{mk('line',{x1:x(t),x2:x(t),y1:682,y2:833,stroke:'#e4e4e4','stroke-width':0.8},g);tx(x(t),840,t.toFixed(1),{'font-size':4,'text-anchor':'middle',fill:'#333'},g);});
kyTicks.forEach(t=>{mk('line',{x1:497,x2:639,y1:y(t),y2:y(t),stroke:'#e4e4e4','stroke-width':0.8},g);tx(493,y(t)+1.5,String(t),{'font-size':4,'text-anchor':'end',fill:'#333'},g);});
const ol=mk('line',{x1:497,x2:639,y1:y(1.3),y2:y(1.3),stroke:'#f0a020','stroke-width':1},g);


bubX.forEach((v,i)=>{const c=mk('circle',{cx:x(v),cy:y(bubY[i]),r:bubR[i]*1.3,fill:keggClassColors[bubClass[i]],'fill-opacity':0.7},g);
 
 });
mk('rect',{x:497,y:682,width:142,height:151,fill:'none',stroke:'#222','stroke-width':0.9},g);
const xt=tx(568,848,'up-down normalization',{'font-size':4.5,'text-anchor':'middle',fill:'#333'},g);


const yt=tx(483,757,'-log10(Pvalue)',{'font-size':4.5,'text-anchor':'middle',fill:'#333',transform:'rotate(-90 483 757)'},g);


tx(653,680,'Pathway Top 20',{'font-size':4,fill:'#222'},g);
const RH=7.15,TY=683;
mk('rect',{x:653,y:TY,width:19,height:RH-0.6,fill:'#cfcfcf'},g);
mk('rect',{x:673,y:TY,width:65,height:RH-0.6,fill:'#cfcfcf'},g);
tx(662.5,TY+4.6,'ID',{'font-size':3.3,'text-anchor':'middle',fill:'#222'},g);
tx(705.5,TY+4.6,'Description',{'font-size':3.3,'text-anchor':'middle',fill:'#222'},g);
const tc={M:'#a8c8ef',E:'#c2d96a',C:'#c79cea',H:'#e0879f'};
topIds.forEach((id,i)=>{const yy=TY+(i+1)*RH;
 const r1=mk('rect',{x:653,y:yy,width:19,height:RH-0.6,fill:tc[topClass[i]]},g);
 
 
 mk('rect',{x:673,y:yy,width:65,height:RH-0.6,fill:tc[topClass[i]]},g);
 tx(662.5,yy+4.5,id,{'font-size':3,'text-anchor':'middle',fill:'#222'},g);
 tx(705.5,yy+4.5,topDesc[i],{'font-size':3,'text-anchor':'middle',fill:'#222'},g);});
tx(481,855,'KEGG A Class',{'font-size':3.6,fill:'#222'},g);
const lk=[['H',515,851],['E',515,858],['C',592,851],['M',592,858],['O',652,851],['G',652,858]];
lk.forEach(a=>{const c=mk('circle',{cx:a[1],cy:a[2]-1.2,r:1.5,fill:keggClassColors[a[0]]},g);
 
 
 tx(a[1]+4,a[2],keggClassNames[a[0]],{'font-size':3.6,fill:'#222'},g);});
})();
</script>
</body></html>
